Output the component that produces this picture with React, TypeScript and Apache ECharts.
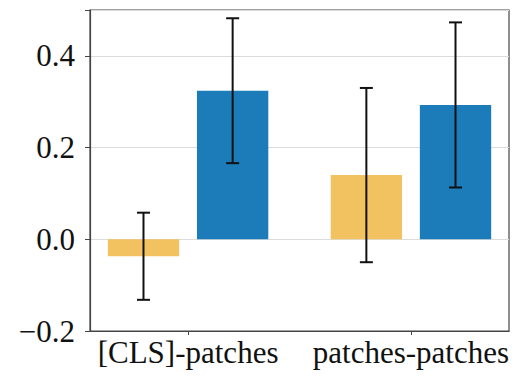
import React, { useEffect, useRef } from "react";
import * as echarts from "echarts";

const categories = ["[CLS]-patches", "patches-patches"];
const yellowValues = [-0.037, 0.14];
const yellowErrors = [0.095, 0.19];
const blueValues = [0.324, 0.293];
const blueErrors = [0.158, 0.18];
const yTicks = [-0.2, 0.0, 0.2, 0.4];

const YELLOW = "#F2C260";
const BLUE = "#1C7CB9";
const BAR_W = 0.32;
const OFFSET = 0.2;
const FONT = "Liberation Serif";

function makeRender(offset: number, color: string) {
  return (params: any, api: any) => {
    const i = api.value(0);
    const v = api.value(1);
    const e = api.value(2);
    const x = i + offset;
    const p0 = api.coord([x - BAR_W / 2, 0]);
    const p1 = api.coord([x + BAR_W / 2, v]);
    const top = api.coord([x, v + e]);
    const bot = api.coord([x, v - e]);
    const cap = 6.5;
    const lineStyle = { stroke: "#111", lineWidth: 2 };
    return {
      type: "group",
      children: [
        {
          type: "rect",
          shape: {
            x: p0[0],
            y: Math.min(p0[1], p1[1]),
            width: p1[0] - p0[0],
            height: Math.abs(p1[1] - p0[1]),
          },
          style: { fill: color },
        },
        { type: "line", shape: { x1: top[0], y1: top[1], x2: bot[0], y2: bot[1] }, style: lineStyle },
        { type: "line", shape: { x1: top[0] - cap, y1: top[1], x2: top[0] + cap, y2: top[1] }, style: lineStyle },
        { type: "line", shape: { x1: bot[0] - cap, y1: bot[1], x2: bot[0] + cap, y2: bot[1] }, style: lineStyle },
      ],
    };
  };
}

export default function App() {
  const ref = useRef<HTMLDivElement>(null);
  useEffect(() => {
    if (!ref.current) return;
    const chart = echarts.init(ref.current, undefined, { renderer: "svg" });
    const labelStyle = {
      fontFamily: FONT,
      fontSize: 31,
      color: "#111",
    };
    chart.setOption({
      animation: false,
      backgroundColor: "#fff",
      textStyle: { fontFamily: FONT, fontSize: 31 },
      grid: {
        left: 90,
        right: 11,
        top: 10,
        bottom: 48,
        show: true,
        borderColor: "#444",
        borderWidth: 1.2,
      },
      xAxis: {
        type: "value",
        min: -0.44,
        max: 1.44,
        splitLine: { show: false },
        axisLine: { show: true, onZero: false, lineStyle: { color: "#444", width: 1.2 } },
        axisTick: { show: true, customValues: [0, 1], length: 4, lineStyle: { color: "#444" } },
        axisLabel: {
          customValues: [0, 1],
          formatter: (v: number) => categories[Math.round(v)] ?? "",
          ...labelStyle,
          margin: 6,
        },
      },
      yAxis: {
        type: "value",
        min: -0.2,
        max: 0.5,
        interval: 0.2,
        axisLine: { show: true, onZero: false, lineStyle: { color: "#444", width: 1.2 } },
        axisTick: { show: true, length: 5, lineStyle: { color: "#444" } },
        splitLine: { show: true, lineStyle: { color: "#dcdcdc", width: 1 } },
        axisLabel: {
          customValues: yTicks,
          formatter: (v: number) => (v < 0 ? "\u2212" + Math.abs(v).toFixed(1) : v.toFixed(1)),
          ...labelStyle,
          margin: 15,
        },
      },
      series: [
        {
          type: "custom",
          renderItem: makeRender(-OFFSET, YELLOW),
          data: yellowValues.map((v, i) => [i, v, yellowErrors[i]]),
          encode: { x: 0, y: 1 },
          clip: false,
        },
        {
          type: "custom",
          renderItem: makeRender(OFFSET, BLUE),
          data: blueValues.map((v, i) => [i, v, blueErrors[i]]),
          encode: { x: 0, y: 1 },
          clip: false,
        },
      ],
    });
    return () => chart.dispose();
  }, []);
  return (
    <div
      ref={ref}
      style={{ position: "absolute", left: 0, top: 0, width: 520, height: 379 }}
    />
  );
}
